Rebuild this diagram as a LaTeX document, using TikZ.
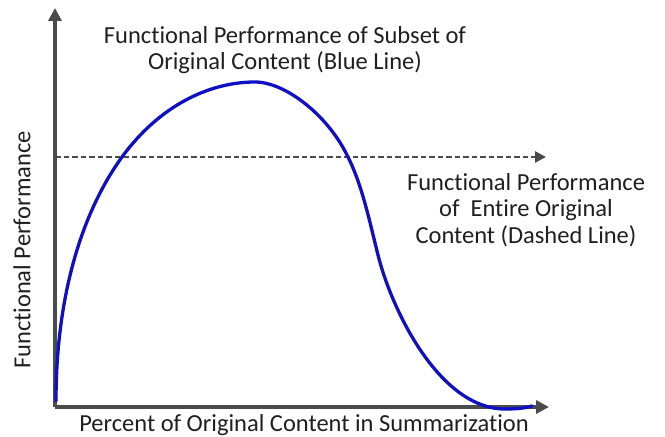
\documentclass[tikz,border=0pt]{standalone}
\usepackage{fontspec}
\setmainfont{Carlito}[Ligatures=NoCommon]
\usetikzlibrary{arrows.meta,positioning}
\definecolor{tengelyszurke}{RGB}{75,75,75}
\definecolor{gorbekek}{RGB}{15,15,195}
\tikzset{
  tengely/.style={line width=3.5bp,draw=tengelyszurke,-{Triangle[length=13bp,width=13bp]}},
  szaggatott/.style={line width=2.6bp,draw=tengelyszurke,dash pattern=on 5.5bp off 3bp,
                     -{Triangle[length=11bp,width=11bp]}},
  gorbe/.style={line width=3.3bp,draw=gorbekek,line cap=round},
  felirat/.style={align=center,inner sep=0pt,text=black!88,
                  font=\fontsize{24.5bp}{26.5bp}\selectfont},
}

\begin{document}
\begin{tikzpicture}[x=1bp,y=-1bp]
  \useasboundingbox (0,0) rectangle (665,437);
  % tengelyek
  \coordinate (O) at (55,407);
  \coordinate (yveg) at (55,8);
  \coordinate (xveg) at (549,407);
  \draw[tengely] (O) -- (yveg);
  \draw[tengely] (O) -- (xveg);
  % teljes tartalom szintje
  \coordinate (sz0) at (55,157);
  \coordinate (sz1) at (546,157);
  \draw[szaggatott] (sz0) -- (sz1);
  % reszhalmaz gorbeje
  \draw[gorbe] (56,401) .. controls (56,300) and (80,215) .. (122,157)
    .. controls (160,105) and (210,82) .. (255,82)
    .. controls (285,82) and (328,115) .. (348,157)
    .. controls (362,185) and (369,219) .. (378,255)
    .. controls (392,311) and (440,409) .. (505,409)
    .. controls (518,409) and (525,408) .. (532,406);
  % feliratok
  \node[felirat] (cim) at (285,50) {Functional Performance of Subset of\\Original Content (Blue Line)};
  \node[felirat] (jobb) at (526,210) {Functional Performance\\of~ Entire Original\\Content (Dashed Line)};
  \node[felirat,rotate=90] (yfel) at (22,250) {Functional Performance};
  \node[felirat] (xfel) at (304,425) {Percent of Original Content in Summarization};
\end{tikzpicture}
\end{document}
